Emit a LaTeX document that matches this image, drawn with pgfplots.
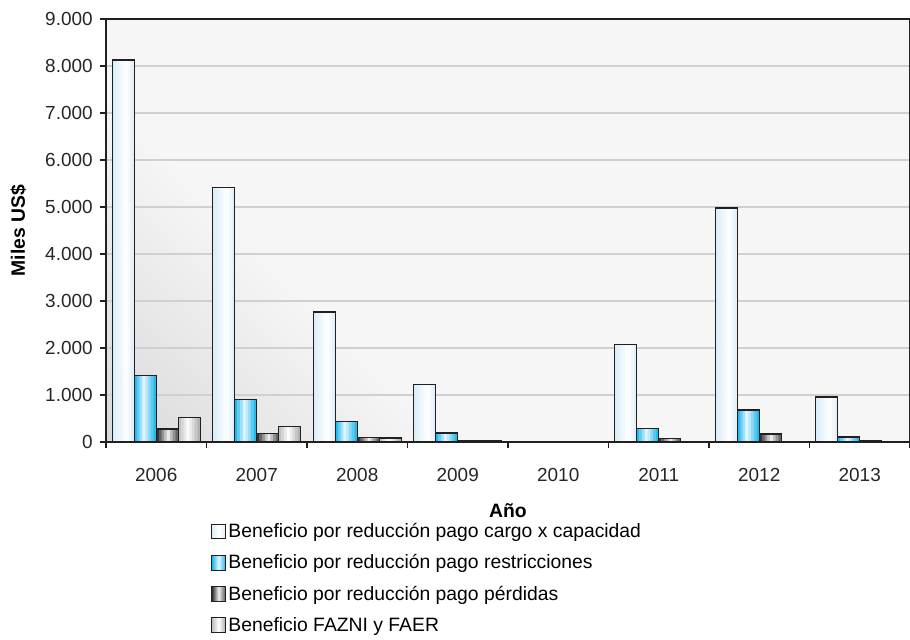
\documentclass[border=0pt]{standalone}
\usepackage{pgfplots}
\usepackage{pgfplotstable}
\pgfplotsset{compat=1.18}
\usepackage{fontspec}
\setmainfont{Liberation Sans}
\definecolor{gridc}{HTML}{D0D0D2}
\definecolor{outl}{HTML}{231F20}
\definecolor{bgdark}{HTML}{D9D9DB}
\definecolor{bglight}{HTML}{F6F6F6}
\definecolor{aL}{HTML}{D6ECF9}
\definecolor{aM}{HTML}{FFFFFF}
\definecolor{aR}{HTML}{DCEEF9}
\definecolor{bL}{HTML}{00AEEF}
\definecolor{bM}{HTML}{E6F8FE}
\definecolor{bR}{HTML}{12B2EA}
\definecolor{cL}{HTML}{1A1A1A}
\definecolor{cM}{HTML}{F0F0F0}
\definecolor{cR}{HTML}{505050}
\definecolor{dL}{HTML}{B8B8B8}
\definecolor{dM}{HTML}{FFFFFF}
\definecolor{dR}{HTML}{A8A8A8}
\pgfdeclareverticalshading{bgshade}{100bp}{color(0bp)=(bgdark); color(50bp)=(bgdark); color(56.6bp)=(bglight); color(100bp)=(bglight)}
\pgfplotstableread{
x a b c d
0 8130 1410 280 520
1 5410 910 185 335
2 2770 440 100 85
3 1220 190 30 30
4 0 0 0 0
5 2070 290 70 0
6 4980 680 170 0
7 960 110 30 0
}\bardata
\newcommand\stripe[3]{\addplot[ybar, bar width=2.3pt, bar shift=#2pt, fill=#3, draw=none, forget plot] table[x=x,y=#1]{\bardata};}
\begin{document}
\begin{tikzpicture}
\begin{scope}
\clip (0,0) rectangle (603pt,317.25pt);
\shade[shading=bgshade, shading angle=-45] (-700pt,-700pt) rectangle (700pt,700pt);
\end{scope}
\begin{axis}[
  at={(0,0)}, anchor=south west,
  scale only axis, width=603pt, height=317.25pt,
  xmin=-0.5, xmax=7.5, ymin=0, ymax=9000,
  xtick={0,...,7},
  xticklabels={2006,2007,2008,2009,2010,2011,2012,2013},
  minor xtick={-0.5,0.5,...,7.5},
  major x tick style={draw=none},
  ytick={0,1000,...,9000},
  yticklabels={0,1.000,2.000,3.000,4.000,5.000,6.000,7.000,8.000,9.000},
  xtick pos=bottom, ytick pos=left,
  tick align=outside,
  major tick length=4.5pt, minor tick length=4.5pt,
  tick style={outl, line width=1.1pt},
  ymajorgrids, grid style={gridc, line width=1.2pt},
  axis line style={outl, line width=1.3pt},
  /pgf/number format/assume math mode=true,
  tick label style={font=\fontsize{14.2}{17}\selectfont, text=black!85},
  xticklabel style={yshift=-12pt},
  yticklabel style={xshift=-2pt},
  xlabel={Año},
  xlabel style={at={(rel axis cs:0.5,-0.163)}, anchor=center, font=\bfseries\fontsize{14.5}{17}\selectfont},
  ylabel={Miles US\$},
  ylabel style={at={(rel axis cs:-0.109,0.5)}, anchor=center, font=\bfseries\fontsize{14.5}{17}\selectfont},
  legend style={at={(rel axis cs:0.125,-0.181)}, anchor=north west, draw=none, fill=none,
    font=\fontsize{14.5}{17}\selectfont, row sep=8.2pt, nodes={inner sep=1.5pt}},
  legend cell align=left,
]
% series a: cargo x capacidad
\stripe{a}{-31.96875}{aM!10!aL}
\stripe{a}{-29.90625}{aM!29!aL}
\stripe{a}{-27.84375}{aM!48!aL}
\stripe{a}{-25.78125}{aM!67!aL}
\stripe{a}{-23.71875}{aM!87!aL}
\stripe{a}{-21.65625}{aM!89!aR}
\stripe{a}{-19.59375}{aM!54!aR}
\stripe{a}{-17.53125}{aM!18!aR}
% series b: restricciones
\stripe{b}{-15.46875}{bM!14!bL}
\stripe{b}{-13.40625}{bM!42!bL}
\stripe{b}{-11.34375}{bM!69!bL}
\stripe{b}{-9.28125}{bM!97!bL}
\stripe{b}{-7.21875}{bM!80!bR}
\stripe{b}{-5.15625}{bM!57!bR}
\stripe{b}{-3.09375}{bM!34!bR}
\stripe{b}{-1.03125}{bM!11!bR}
% series c: perdidas
\stripe{c}{1.03125}{cM!11!cL}
\stripe{c}{3.09375}{cM!34!cL}
\stripe{c}{5.15625}{cM!57!cL}
\stripe{c}{7.21875}{cM!80!cL}
\stripe{c}{9.28125}{cM!97!cR}
\stripe{c}{11.34375}{cM!69!cR}
\stripe{c}{13.40625}{cM!42!cR}
\stripe{c}{15.46875}{cM!14!cR}
% series d: FAZNI y FAER
\stripe{d}{17.53125}{dM!14!dL}
\stripe{d}{19.59375}{dM!42!dL}
\stripe{d}{21.65625}{dM!69!dL}
\stripe{d}{23.71875}{dM!97!dL}
\stripe{d}{25.78125}{dM!80!dR}
\stripe{d}{27.84375}{dM!57!dR}
\stripe{d}{29.90625}{dM!34!dR}
\stripe{d}{31.96875}{dM!11!dR}
% outlines with legend entries
\addplot[ybar, bar width=16.5pt, bar shift=-24.75pt, draw=outl, fill=none, line width=1.1pt,
  legend image code/.code={\draw[outl, line width=0.7pt, left color=aL, right color=aR, middle color=white] (0pt,-5.5pt) rectangle (11pt,5.5pt);}]
  table[x=x,y=a]{\bardata};
\addplot[ybar, bar width=16.5pt, bar shift=-8.25pt, draw=outl, fill=none, line width=1.1pt,
  legend image code/.code={\draw[outl, line width=0.7pt, left color=bL, right color=bR, middle color=bM] (0pt,-5.5pt) rectangle (11pt,5.5pt);}]
  table[x=x,y=b]{\bardata};
\addplot[ybar, bar width=16.5pt, bar shift=8.25pt, draw=outl, fill=none, line width=1.1pt,
  legend image code/.code={\draw[outl, line width=0.7pt, left color=cL, right color=cR, middle color=cM] (0pt,-5.5pt) rectangle (11pt,5.5pt);}]
  table[x=x,y=c]{\bardata};
\addplot[ybar, bar width=16.5pt, bar shift=24.75pt, draw=outl, fill=none, line width=1.1pt,
  legend image code/.code={\draw[outl, line width=0.7pt, left color=dL, right color=dR, middle color=white] (0pt,-5.5pt) rectangle (11pt,5.5pt);}]
  table[x=x,y=d]{\bardata};
\legend{Beneficio por reducción pago cargo x capacidad, Beneficio por reducción pago restricciones, Beneficio por reducción pago pérdidas, Beneficio FAZNI y FAER}
\end{axis}
\pgfresetboundingbox
\path (-79.5pt,-147.75pt) rectangle (603pt,331.5pt);
\end{tikzpicture}
\end{document}
